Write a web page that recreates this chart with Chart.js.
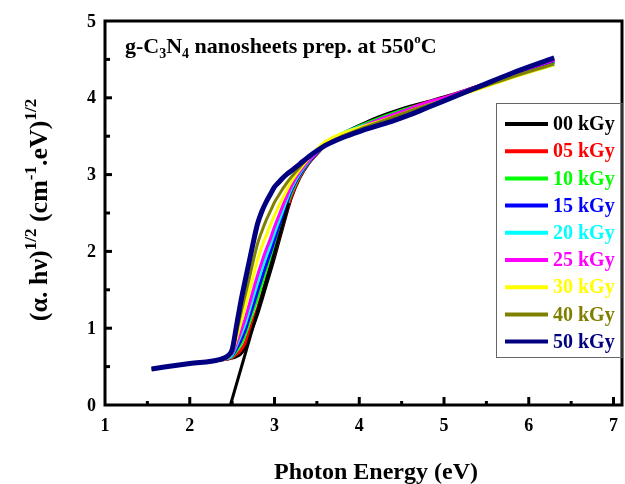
<!DOCTYPE html>
<html>
<head>
<meta charset="utf-8">
<script src="https://cdn.jsdelivr.net/npm/chart.js@4.4.0/dist/chart.umd.min.js"></script>
<style>
  html, body { margin: 0; padding: 0; background: #fff; }
  canvas { display: block; }
</style>
</head>
<body>
<canvas id="tauc" width="625" height="484"></canvas>
<script>
// photon energy (eV), shared by every curve
const energy = [1.55, 2.0, 2.35, 2.45, 2.5, 2.55, 2.6, 2.65, 2.7, 2.75, 2.8, 2.85, 2.9, 2.95, 3.0, 3.05, 3.1, 3.15, 3.2, 3.3, 3.4, 3.5, 3.6, 3.8, 4.0, 4.2, 4.4, 4.6, 4.8, 5.0, 5.4, 5.8, 6.3];

// (alpha.hv)^1/2, one array per dose
const y00 = [0.47, 0.54, 0.585, 0.60, 0.61, 0.63, 0.66, 0.74, 0.88, 1.03, 1.18, 1.36, 1.55, 1.73, 1.92, 2.12, 2.32, 2.52, 2.70, 2.96, 3.14, 3.27, 3.38, 3.53, 3.64, 3.74, 3.82, 3.89, 3.95, 4.01, 4.15, 4.29, 4.46];
const y05 = [0.47, 0.54, 0.585, 0.60, 0.62, 0.66, 0.71, 0.80, 0.95, 1.11, 1.26, 1.44, 1.63, 1.80, 1.98, 2.17, 2.36, 2.55, 2.72, 2.97, 3.15, 3.27, 3.38, 3.52, 3.62, 3.71, 3.79, 3.87, 3.94, 4.00, 4.15, 4.30, 4.48];
const y10 = [0.47, 0.54, 0.585, 0.61, 0.63, 0.70, 0.78, 0.90, 1.06, 1.23, 1.39, 1.57, 1.75, 1.91, 2.09, 2.26, 2.44, 2.61, 2.76, 2.99, 3.16, 3.28, 3.38, 3.52, 3.63, 3.72, 3.80, 3.87, 3.93, 3.99, 4.14, 4.29, 4.46];
const y15 = [0.47, 0.54, 0.585, 0.61, 0.64, 0.73, 0.83, 0.96, 1.13, 1.30, 1.48, 1.65, 1.82, 1.98, 2.15, 2.32, 2.48, 2.64, 2.79, 3.00, 3.16, 3.28, 3.38, 3.51, 3.61, 3.70, 3.78, 3.86, 3.93, 3.99, 4.14, 4.30, 4.48];
const y20 = [0.47, 0.54, 0.585, 0.61, 0.65, 0.77, 0.90, 1.04, 1.22, 1.41, 1.59, 1.77, 1.93, 2.08, 2.24, 2.39, 2.54, 2.69, 2.82, 3.02, 3.17, 3.29, 3.40, 3.54, 3.62, 3.69, 3.77, 3.85, 3.92, 3.98, 4.12, 4.27, 4.43];
const y25 = [0.47, 0.54, 0.585, 0.62, 0.67, 0.80, 0.95, 1.11, 1.30, 1.50, 1.69, 1.86, 2.02, 2.16, 2.32, 2.46, 2.60, 2.73, 2.85, 3.04, 3.18, 3.29, 3.39, 3.51, 3.61, 3.70, 3.78, 3.86, 3.94, 4.00, 4.15, 4.31, 4.49];
const y30 = [0.47, 0.54, 0.585, 0.62, 0.69, 0.86, 1.06, 1.26, 1.47, 1.68, 1.89, 2.06, 2.20, 2.34, 2.47, 2.59, 2.70, 2.81, 2.91, 3.07, 3.21, 3.33, 3.43, 3.54, 3.61, 3.68, 3.75, 3.83, 3.90, 3.97, 4.11, 4.26, 4.43];
const y40 = [0.47, 0.54, 0.585, 0.63, 0.70, 0.93, 1.18, 1.41, 1.64, 1.88, 2.10, 2.26, 2.40, 2.52, 2.64, 2.73, 2.82, 2.90, 2.97, 3.10, 3.22, 3.31, 3.39, 3.50, 3.59, 3.67, 3.75, 3.83, 3.90, 3.97, 4.12, 4.27, 4.44];
const y50 = [0.47, 0.54, 0.59, 0.64, 0.72, 1.02, 1.33, 1.60, 1.86, 2.12, 2.36, 2.52, 2.64, 2.74, 2.84, 2.90, 2.96, 3.01, 3.05, 3.14, 3.23, 3.31, 3.38, 3.48, 3.56, 3.63, 3.70, 3.78, 3.87, 3.96, 4.14, 4.32, 4.52];

const doseLabels = ['00 kGy', '05 kGy', '10 kGy', '15 kGy', '20 kGy', '25 kGy', '30 kGy', '40 kGy', '50 kGy'];
const doseColors = ['#000000', '#ff0000', '#00ff00', '#0000ff', '#00ffff', '#ff00ff', '#ffff00', '#808000', '#000080'];
const doseSeries = [y00, y05, y10, y15, y20, y25, y30, y40, y50];

// linear fit used to read the band gap
const tangentX = [2.48, 3.17];
const tangentY = [0, 2.63];

const xTicks = [1, 2, 3, 4, 5, 6, 7];
const yTicks = [0, 1, 2, 3, 4, 5];

const serif = '"Liberation Serif", "Times New Roman", serif';
const font = (size) => `bold ${size}px ${serif}`;

// draws runs of normal / sub / superscript text one after the other
const drawRuns = (ctx, runs, startX, baseY) => {
    let cx = startX;
    runs.forEach(([text, size, shift]) => {
        ctx.font = font(size);
        ctx.fillText(text, cx, baseY + shift);
        cx += ctx.measureText(text).width;
    });
};
const runsWidth = (ctx, runs) => runs.reduce((w, [text, size]) => {
    ctx.font = font(size);
    return w + ctx.measureText(text).width;
}, 0);

const framePlugin = {
    id: 'frame',
    afterDraw(chart) {
        const { ctx, chartArea: a, scales: { x, y } } = chart;
        ctx.save();

        // frame
        ctx.strokeStyle = '#000';
        ctx.lineWidth = 3;
        ctx.strokeRect(a.left, a.top, a.right - a.left, a.bottom - a.top);

        // inward ticks, majors on whole units, minors on halves
        for (let v = 1.5; v <= 7; v += 0.5) {
            const px = x.getPixelForValue(v);
            const len = Number.isInteger(v) ? 8 : 4;
            ctx.beginPath();
            ctx.moveTo(px, a.bottom);
            ctx.lineTo(px, a.bottom - len);
            ctx.stroke();
        }
        for (let v = 0.5; v < 5; v += 0.5) {
            const py = y.getPixelForValue(v);
            const len = Number.isInteger(v) ? 7 : 5;
            ctx.beginPath();
            ctx.moveTo(a.left, py);
            ctx.lineTo(a.left + len, py);
            ctx.stroke();
        }

        // tick labels
        ctx.fillStyle = '#000';
        ctx.font = font(18);
        ctx.textBaseline = 'middle';
        ctx.textAlign = 'center';
        xTicks.forEach(v => ctx.fillText(String(v), x.getPixelForValue(v), a.bottom + 21));
        ctx.textAlign = 'right';
        yTicks.forEach(v => ctx.fillText(String(v), a.left - 9, y.getPixelForValue(v) + 1));

        // legend
        ctx.lineWidth = 1;
        ctx.strokeStyle = '#666';
        ctx.strokeRect(496.5, 103.5, a.right - 496.5, 254);
        ctx.textAlign = 'left';
        doseLabels.forEach((label, i) => {
            const rowY = 124 + i * 27.2;
            ctx.strokeStyle = doseColors[i];
            ctx.lineWidth = 4;
            ctx.beginPath();
            ctx.moveTo(505, rowY);
            ctx.lineTo(548, rowY);
            ctx.stroke();
            ctx.fillStyle = doseColors[i];
            ctx.font = font(20);
            ctx.fillText(label, 553, rowY + 1);
        });

        ctx.fillStyle = '#000';
        ctx.textBaseline = 'alphabetic';

        // sample note
        drawRuns(ctx, [
            ['g-C', 22, 0], ['3', 14, 5], ['N', 22, 0], ['4', 14, 5],
            [' nanosheets prep. at 550', 22, 0], ['o', 13, -10], ['C', 22, 0]
        ], 125, 53);

        // x title
        ctx.font = font(24);
        ctx.textAlign = 'center';
        ctx.fillText('Photon Energy (eV)', 376, 479);
        ctx.textAlign = 'left';

        // y title, rotated
        const yRuns = [
            ['(\u03b1. h\u03bd)', 26, 0], ['1/2', 17, -11], [' (cm', 26, 0],
            ['-1', 17, -11], ['.eV)', 26, 0], ['1/2', 17, -11]
        ];
        ctx.translate(47, 210);
        ctx.rotate(-Math.PI / 2);
        drawRuns(ctx, yRuns, -runsWidth(ctx, yRuns) / 2, 0);

        ctx.restore();
    }
};

const datasets = doseSeries.map((vals, i) => ({
    label: doseLabels[i],
    data: energy.map((e, k) => ({ x: e, y: vals[k] })),
    borderColor: doseColors[i],
    borderWidth: i === 8 ? 5 : 3,
    cubicInterpolationMode: 'monotone',
    pointRadius: 0,
    fill: false,
    order: 9 - i
}));
datasets.push({
    label: 'fit',
    data: tangentX.map((e, k) => ({ x: e, y: tangentY[k] })),
    borderColor: '#000',
    borderWidth: 3,
    pointRadius: 0,
    fill: false,
    order: 0
});

new Chart(document.getElementById('tauc').getContext('2d'), {
    type: 'line',
    data: { datasets },
    options: {
        responsive: false,
        animation: false,
        layout: { padding: { top: 21, right: 3, left: 0, bottom: 0 } },
        plugins: { legend: { display: false }, tooltip: { enabled: false } },
        scales: {
            x: {
                type: 'linear',
                min: 1,
                max: 7.1,
                grid: { display: false, drawTicks: false },
                border: { display: false },
                ticks: { display: false },
                afterFit: s => { s.height = 79; }
            },
            y: {
                type: 'linear',
                min: 0,
                max: 5,
                grid: { display: false, drawTicks: false },
                border: { display: false },
                ticks: { display: false },
                afterFit: s => { s.width = 105; }
            }
        }
    },
    plugins: [framePlugin]
});
</script>
</body>
</html>
